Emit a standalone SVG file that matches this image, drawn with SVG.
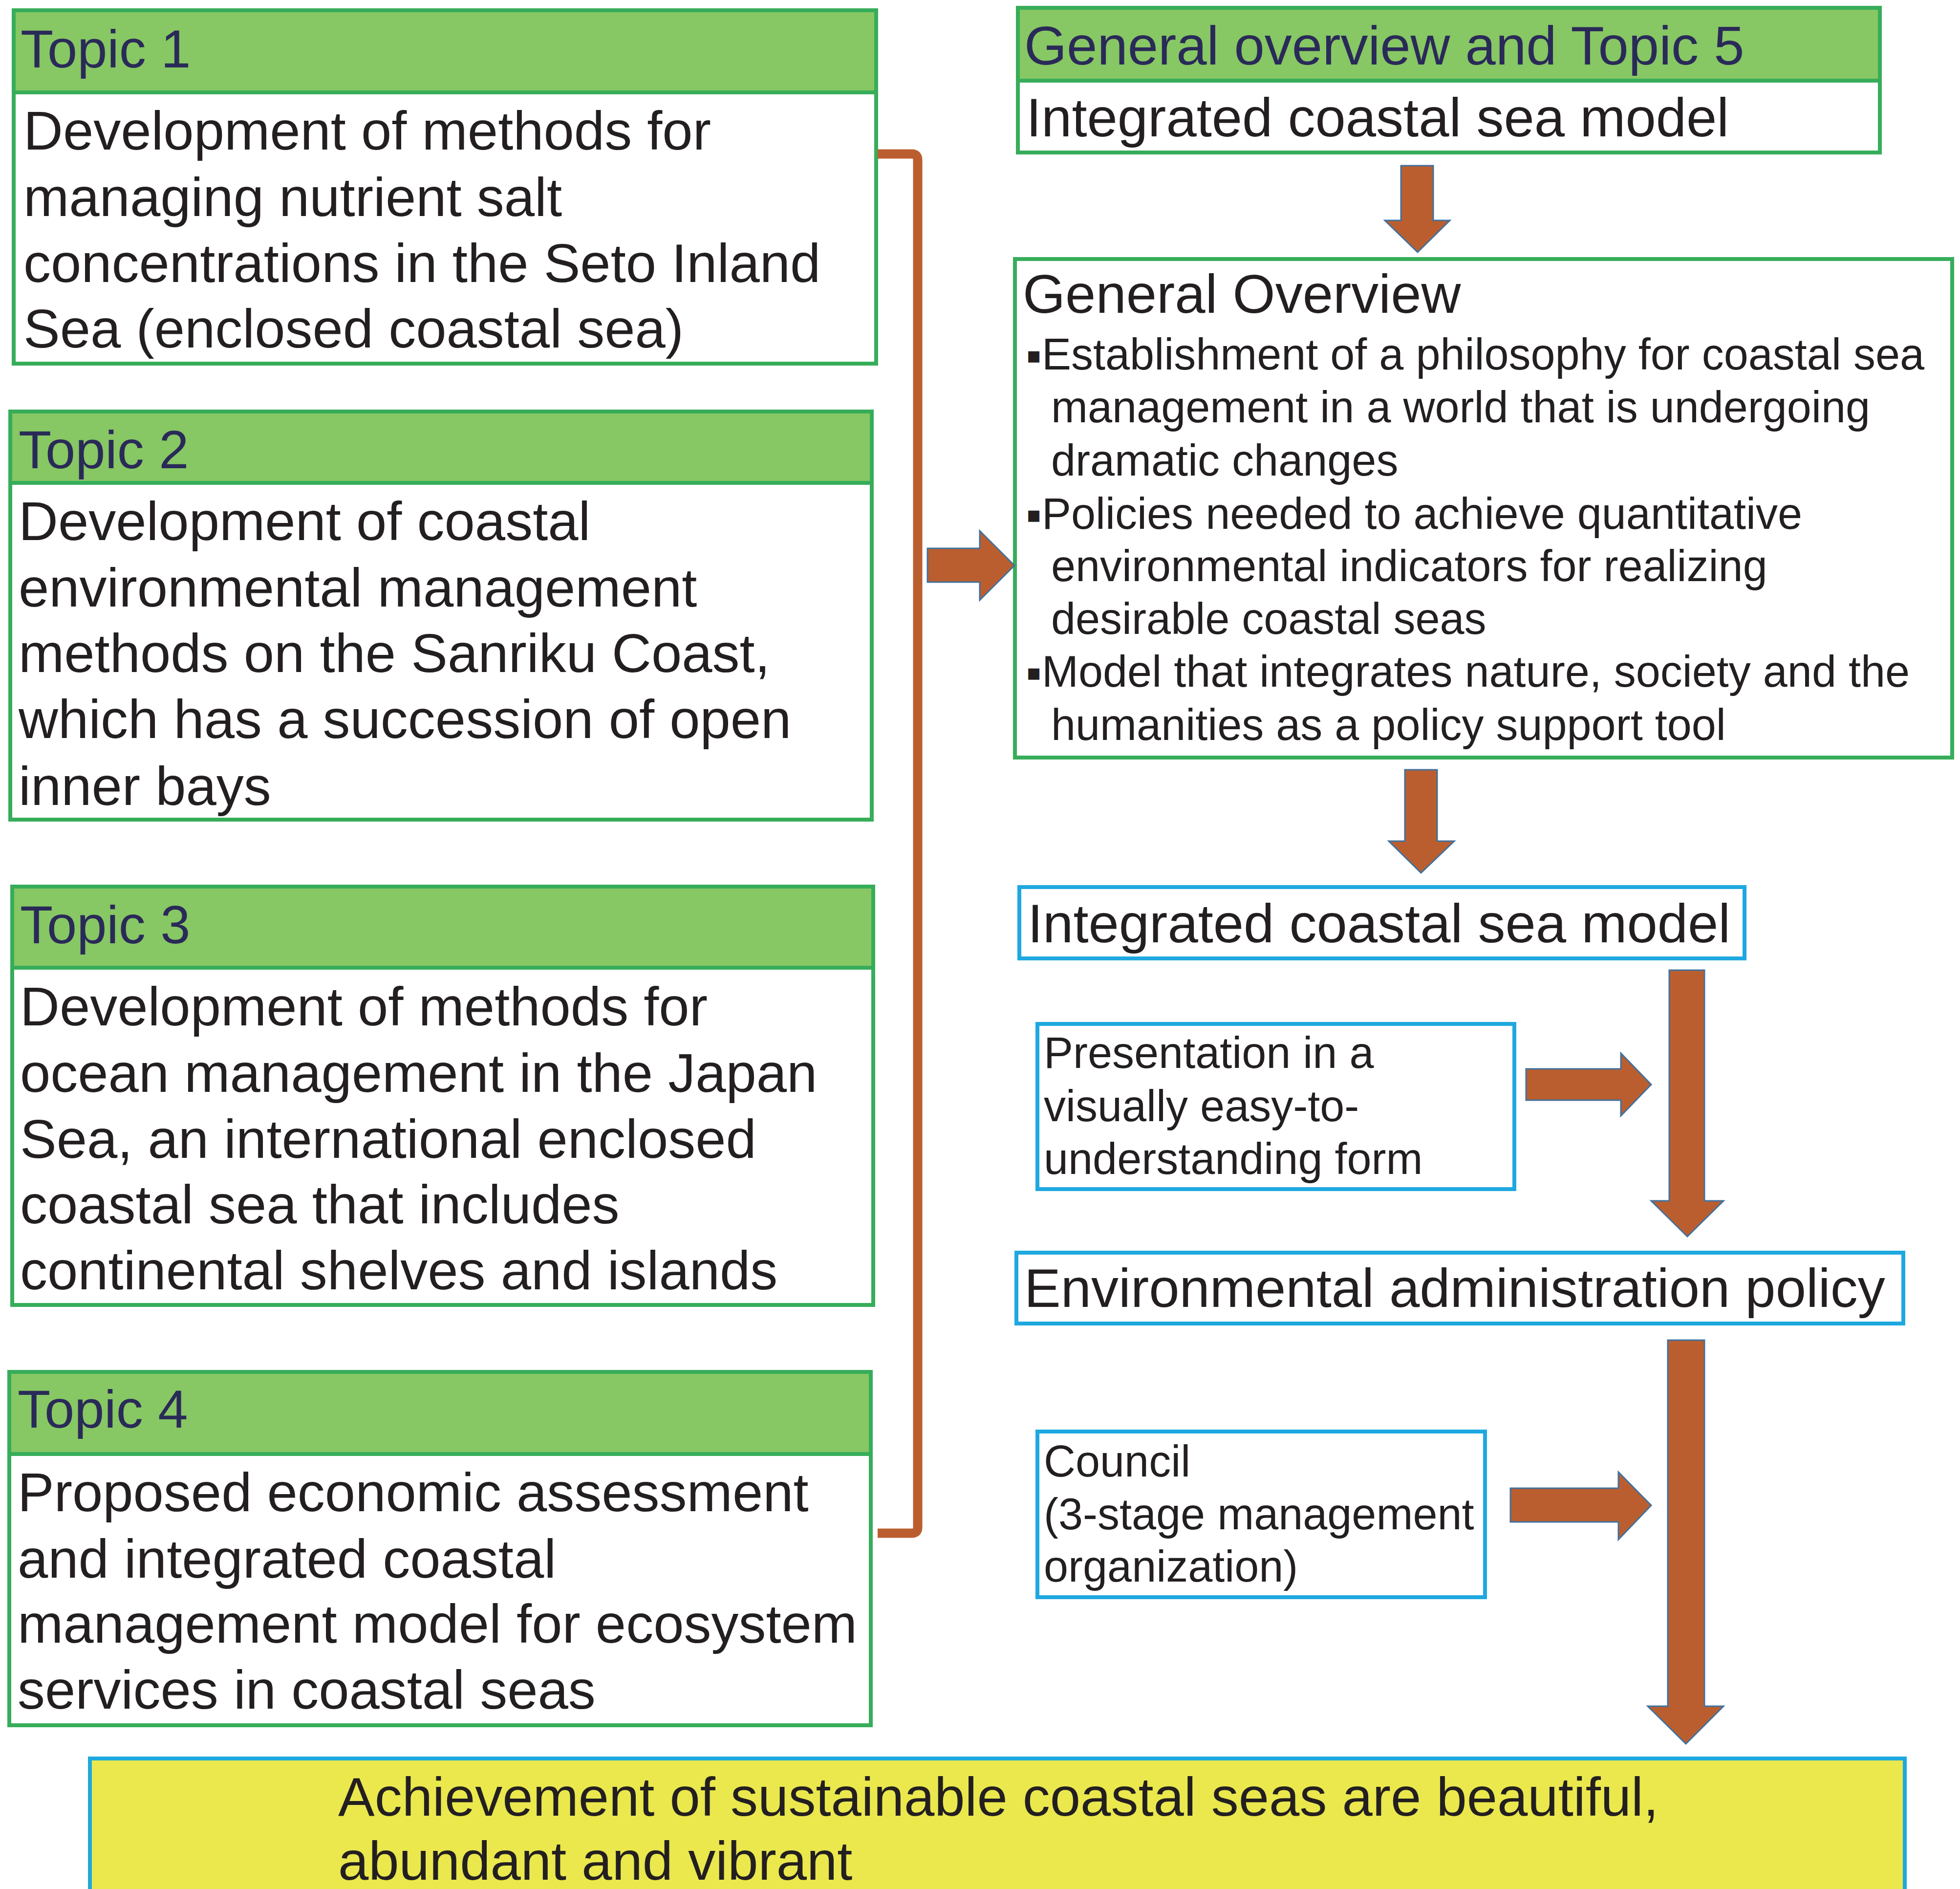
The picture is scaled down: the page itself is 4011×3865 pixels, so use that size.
<svg xmlns="http://www.w3.org/2000/svg" width="4011" height="3865" viewBox="0 0 4011 3865">
<style>
text{font-family:"Liberation Sans",Arial,sans-serif;fill:#231f20;}
.hd{font-size:110px;fill:#2a2a58;}
.big{font-size:112px;}
.sm{font-size:90px;}
.bul{font-family:"DejaVu Sans",sans-serif;font-size:46px;}
.gbox{fill:#ffffff;stroke:#37ad5a;stroke-width:8;}
.ghead{fill:#87c764;stroke:#37ad5a;stroke-width:8;}
.bbox{fill:#ffffff;stroke:#1fa8df;stroke-width:8;}
.arrow{fill:#bb5e2f;stroke:#41719c;stroke-width:3;stroke-linejoin:miter;}
.bracket{fill:none;stroke:#bb5e2f;stroke-width:19;}
</style>
<rect width="4011" height="3865" fill="#ffffff"/>

<g id="topic1">
<rect class="gbox" x="28" y="21" width="1765" height="723"/>
<rect class="ghead" x="28" y="21" width="1765" height="168"/>
<text class="hd" x="42" y="138">Topic 1</text>
<text class="big"><tspan x="48" y="306">Development of methods for</tspan><tspan x="48" y="442">managing nutrient salt</tspan><tspan x="48" y="577">concentrations in the Seto Inland</tspan><tspan x="48" y="711">Sea (enclosed coastal sea)</tspan></text>
</g>

<g id="topic2">
<rect class="gbox" x="21" y="842" width="1763" height="835"/>
<rect class="ghead" x="21" y="842" width="1763" height="146"/>
<text class="hd" x="38" y="958">Topic 2</text>
<text class="big"><tspan x="38" y="1105">Development of coastal</tspan><tspan x="38" y="1241">environmental management</tspan><tspan x="38" y="1375">methods on the Sanriku Coast,</tspan><tspan x="38" y="1510">which has a succession of open</tspan><tspan x="38" y="1647">inner bays</tspan></text>
</g>

<g id="topic3">
<rect class="gbox" x="25" y="1814" width="1762" height="856"/>
<rect class="ghead" x="25" y="1814" width="1762" height="166"/>
<text class="hd" x="41" y="1930">Topic 3</text>
<text class="big"><tspan x="41" y="2098">Development of methods for</tspan><tspan x="41" y="2234">ocean management in the Japan</tspan><tspan x="41" y="2369">Sea, an international enclosed</tspan><tspan x="41" y="2503">coastal sea that includes</tspan><tspan x="41" y="2638">continental shelves and islands</tspan></text>
</g>

<g id="topic4">
<rect class="gbox" x="19" y="2807" width="1763" height="723"/>
<rect class="ghead" x="19" y="2807" width="1763" height="168"/>
<text class="hd" x="36" y="2921">Topic 4</text>
<text class="big"><tspan x="36" y="3092">Proposed economic assessment</tspan><tspan x="36" y="3228">and integrated coastal</tspan><tspan x="36" y="3361">management model for ecosystem</tspan><tspan x="36" y="3496">services in coastal seas</tspan></text>
</g>

<g id="topic5">
<rect class="gbox" x="2083" y="16" width="1764" height="296"/>
<rect class="ghead" x="2083" y="16" width="1764" height="149"/>
<text class="big" x="2096" y="132" style="fill:#2a2a58">General overview and Topic 5</text>
<text class="big" x="2100" y="279">Integrated coastal sea model</text>
</g>

<g id="general-overview">
<rect class="gbox" x="2077" y="530" width="1918" height="1020"/>
<text class="big" x="2093" y="640">General Overview</text>
<text class="sm"><tspan class="bul" x="2100" y="742">▪</tspan><tspan x="2132" y="756">Establishment of a philosophy for coastal sea</tspan><tspan x="2151" y="864">management in a world that is undergoing</tspan><tspan x="2151" y="973">dramatic changes</tspan><tspan class="bul" x="2100" y="1068">▪</tspan><tspan x="2132" y="1082">Policies needed to achieve quantitative</tspan><tspan x="2151" y="1189">environmental indicators for realizing</tspan><tspan x="2151" y="1297">desirable coastal seas</tspan><tspan class="bul" x="2100" y="1391">▪</tspan><tspan x="2132" y="1405">Model that integrates nature, society and the</tspan><tspan x="2151" y="1514">humanities as a policy support tool</tspan></text>
</g>

<g id="integrated-model">
<rect class="bbox" x="2086" y="1815" width="1484" height="146"/>
<text class="big" x="2103" y="1928">Integrated coastal sea model</text>
</g>

<g id="presentation">
<rect class="bbox" x="2123" y="2095" width="976" height="338"/>
<text class="sm"><tspan x="2136" y="2185">Presentation in a</tspan><tspan x="2136" y="2294">visually easy-to-</tspan><tspan x="2136" y="2402">understanding form</tspan></text>
</g>

<g id="env-policy">
<rect class="bbox" x="2080" y="2563" width="1815" height="145"/>
<text class="big" x="2096" y="2674">Environmental administration policy</text>
</g>

<g id="council">
<rect class="bbox" x="2123" y="2929" width="916" height="339"/>
<text class="sm"><tspan x="2136" y="3021">Council</tspan><tspan x="2136" y="3129">(3-stage management</tspan><tspan x="2136" y="3236">organization)</tspan></text>
</g>

<g id="goal">
<rect x="184" y="3598" width="3714" height="420" fill="#eae84d" stroke="#1fa8df" stroke-width="8"/>
<text class="big"><tspan x="692" y="3715">Achievement of sustainable coastal seas are beautiful,</tspan><tspan x="692" y="3846">abundant and vibrant</tspan></text>
</g>

<g id="connectors">
<path class="bracket" d="M1796,315 H1866 Q1878,315 1878,327 V3125 Q1878,3137 1866,3137 H1796"/>
<polygon class="arrow" points="1898,1122 2005,1122 2005,1086 2076,1157 2005,1228 2005,1191 1898,1191"/>
<polygon class="arrow" points="2867,339 2933,339 2933,451 2967,451 2901,516 2834,451 2867,451"/>
<polygon class="arrow" points="2875,1575 2941,1575 2941,1721 2976,1721 2908,1786 2842,1721 2875,1721"/>
<polygon class="arrow" points="3416,1985 3488,1985 3488,2457 3527,2457 3453,2530 3379,2457 3416,2457"/>
<polygon class="arrow" points="3123,2187 3317,2187 3317,2155 3379,2219 3317,2283 3317,2251 3123,2251"/>
<polygon class="arrow" points="3413,2742 3488,2742 3488,3491 3527,3491 3450,3568 3372,3491 3413,3491"/>
<polygon class="arrow" points="3091,3045 3312,3045 3312,3012 3379,3080 3312,3150 3312,3114 3091,3114"/>
</g>
</svg>
